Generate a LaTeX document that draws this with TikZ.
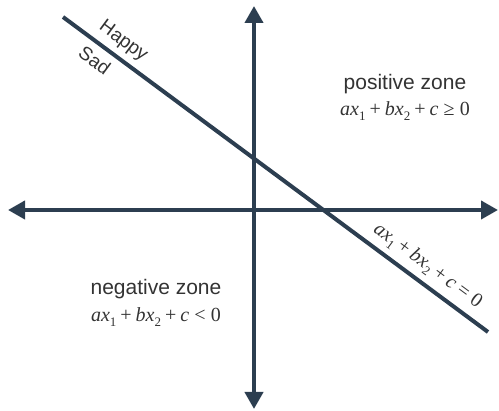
\documentclass[tikz,border=0pt]{standalone}
\usepackage{fontspec}
\setmainfont{Liberation Sans}
\newfontfamily\seriffam{Liberation Serif}
\usetikzlibrary{arrows.meta,calc}
\definecolor{axis}{HTML}{2C3E50}
\definecolor{txt}{HTML}{333333}
\newcommand{\lsub}[1]{\raisebox{-0.22em}{\seriffam\fontsize{13}{13}\selectfont #1}}
\newcommand{\bop}[1]{\hspace{0.2em}{\seriffam #1}\hspace{0.2em}}
\newcommand{\rel}[1]{\hspace{0.26em}{\seriffam #1}\hspace{0.26em}}
\newcommand{\lin}[1]{{\seriffam\itshape ax}\lsub{1}\bop{+}{\seriffam\itshape bx}\lsub{2}\bop{+}{\seriffam\itshape c}\rel{#1}{\seriffam 0}}
\tikzset{
  axisline/.style={draw=axis, line width=4pt, {Triangle[length=17pt,width=18pt]}-{Triangle[length=17pt,width=18pt]}},
  boundary/.style={draw=axis, line width=4pt},
  zonelabel/.style={text=txt, font=\fontsize{21}{23}\selectfont, align=center, inner sep=0pt},
  mathlabel/.style={text=txt, font=\fontsize{20}{22}\selectfont, inner sep=0pt},
  sidelabel/.style={text=txt, font=\fontsize{19}{21}\selectfont, inner sep=0pt, rotate=-36.5}
}
\begin{document}
\begin{tikzpicture}[x=1pt,y=-1pt]
\useasboundingbox (0,0) rectangle (499,411);
\coordinate (xl) at (8,210);
\coordinate (xr) at (498,210);
\coordinate (yt) at (254,6);
\coordinate (yb) at (254,409);
\coordinate (A) at (63,17);
\coordinate (B) at (488,332);
\draw[axisline] (xl) -- (xr);
\draw[axisline] (yt) -- (yb);
\draw[boundary] (A) -- (B);
\node[sidelabel] (happy) at ($(A)!0.119!(B)!16pt!90:(B)$) {Happy};
\node[sidelabel] (sad) at ($(A)!0.097!(B)!16pt!-90:(B)$) {Sad};
\node[mathlabel, rotate=-36.5] (eq) at ($(A)!0.834!(B)!17pt!90:(B)$) {\lin{=}};
\node[zonelabel] (pos) at (405,84) {positive zone};
\node[mathlabel] (posm) at (405,111) {\lin{≥}};
\node[zonelabel] (neg) at (156,289) {negative zone};
\node[mathlabel] (negm) at (156,317) {\lin{<}};
\end{tikzpicture}
\end{document}
